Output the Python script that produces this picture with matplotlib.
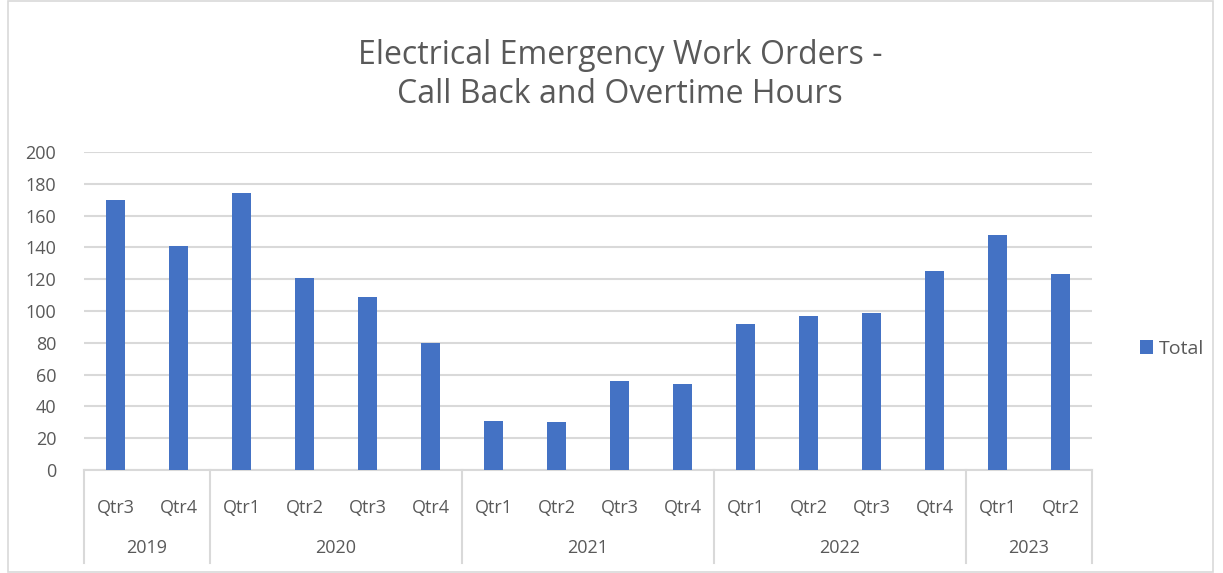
import matplotlib.pyplot as plt
from matplotlib.patches import Rectangle
import matplotlib.transforms as mtransforms

quarters = ["Qtr3", "Qtr4",
            "Qtr1", "Qtr2", "Qtr3", "Qtr4",
            "Qtr1", "Qtr2", "Qtr3", "Qtr4",
            "Qtr1", "Qtr2", "Qtr3", "Qtr4",
            "Qtr1", "Qtr2"]
years = ["2019", "2020", "2021", "2022", "2023"]
quarters_per_year = [2, 4, 4, 4, 2]
totals = [170, 141, 174, 121, 109, 80, 31, 30, 56, 54, 92, 97, 99, 125, 148, 123]

plt.rcParams['font.family'] = ['Open Sans', 'DejaVu Sans']
text_color = '#595959'
grid_color = '#d9d9d9'
bar_color = '#4472c4'

fig = plt.figure(figsize=(12.23, 5.73), dpi=100)
ax = fig.add_axes([84 / 1223, 103 / 573, 1008 / 1223, 318 / 573])

x = list(range(len(totals)))
ax.bar(x, totals, width=0.3, color=bar_color, label='Total', zorder=3)

ax.set_xlim(-0.5, len(totals) - 0.5)
ax.set_ylim(0, 200)
ax.set_yticks(range(0, 201, 20))
ax.yaxis.grid(True, color=grid_color, linewidth=1.5, zorder=0)
for s in ['top', 'right', 'left']:
    ax.spines[s].set_visible(False)
ax.spines['bottom'].set_color(grid_color)
ax.spines['bottom'].set_linewidth(1.5)
ax.tick_params(axis='y', length=0, labelsize=13, labelcolor=text_color, pad=20)
ax.set_xticks(x, quarters)
ax.tick_params(axis='x', length=0, labelsize=13, labelcolor=text_color, pad=21)

# year group labels and separators below the quarter labels
trans = mtransforms.blended_transform_factory(ax.transData, ax.transAxes)
edge = -0.5
ax.plot([edge, edge], [0, -0.292], color=grid_color, lw=1.5, transform=trans, clip_on=False)
for yr, n in zip(years, quarters_per_year):
    mid = edge + n / 2
    ax.text(mid, -0.245, yr, transform=trans, ha='center', va='center',
            fontsize=13, color=text_color)
    edge += n
    ax.plot([edge, edge], [0, -0.292], color=grid_color, lw=1.5, transform=trans, clip_on=False)

fig.suptitle("Electrical Emergency Work Orders -\nCall Back and Overtime Hours",
             x=620 / 1223, y=1 - 75 / 573, fontsize=23, color=text_color,
             linespacing=1.25, va='center')

fig.legend(loc='center left', bbox_to_anchor=(1122 / 1223, 1 - 349 / 573),
           frameon=False, fontsize=14, labelcolor=text_color,
           handlelength=0.7, handleheight=0.7, handletextpad=0.3)

fig.patches.append(Rectangle((8 / 1223, 1 / 573), 1205 / 1223, 571 / 573,
                             transform=fig.transFigure, fill=False,
                             edgecolor=grid_color, linewidth=1.2))

fig.savefig('out.png', dpi=100)
